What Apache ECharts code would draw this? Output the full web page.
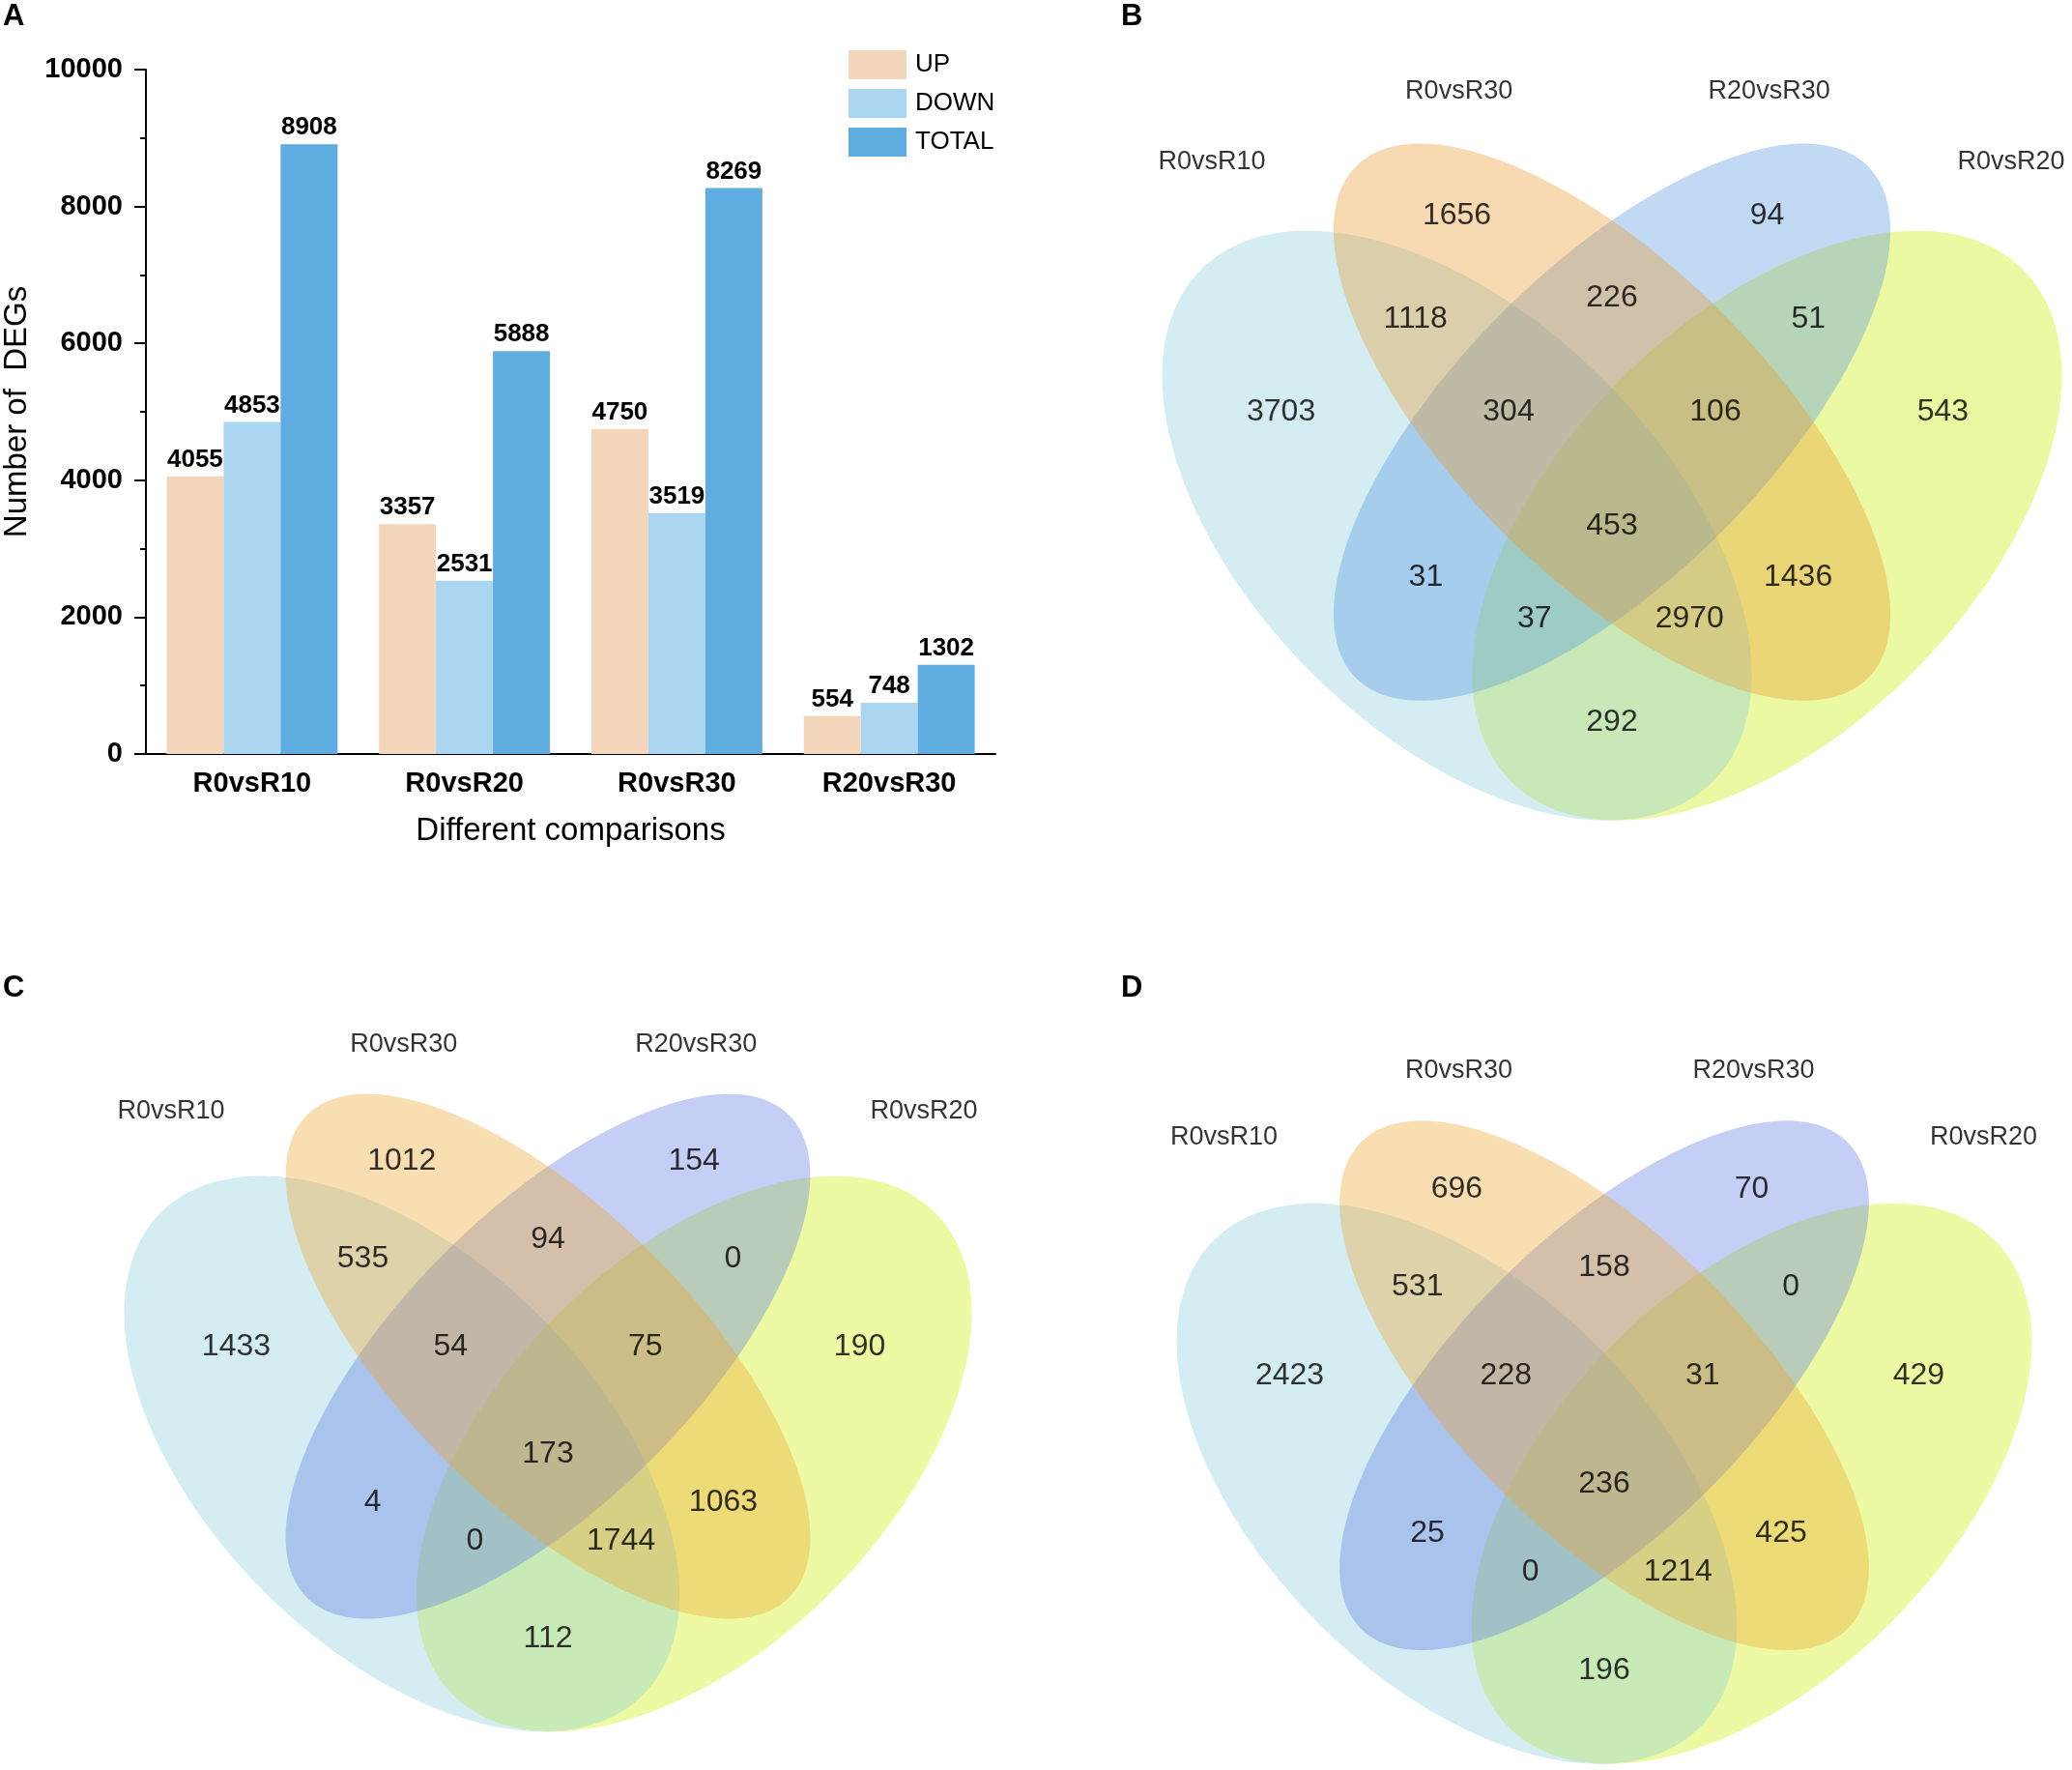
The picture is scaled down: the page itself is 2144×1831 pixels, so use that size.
<!DOCTYPE html>
<html><head><meta charset="utf-8">
<script src="https://cdn.jsdelivr.net/npm/echarts@6/dist/echarts.min.js"></script>
<style>html,body{margin:0;padding:0;background:#fff}#c{width:2144px;height:1831px}</style>
</head><body><div id="c"></div>
<script>
// ---------------- DATA ----------------
const categories = ['R0vsR10', 'R0vsR20', 'R0vsR30', 'R20vsR30'];
const upValues = [4055, 3357, 4750, 554];
const downValues = [4853, 2531, 3519, 748];
const totalValues = [8908, 5888, 8269, 1302];
const seriesNames = ['UP', 'DOWN', 'TOTAL'];

const setNames = ['R0vsR10', 'R0vsR30', 'R20vsR30', 'R0vsR20'];
// region keys: A=R0vsR10, B=R0vsR30, C=R20vsR30, D=R0vsR20
const regionKeys = ['A', 'B', 'C', 'D', 'AB', 'BC', 'CD', 'ABC', 'BCD', 'ABCD', 'AC', 'BD', 'ACD', 'ABD', 'AD'];
const vennB = [3703, 1656, 94, 543, 1118, 226, 51, 304, 106, 453, 31, 1436, 37, 2970, 292];
const vennC = [1433, 1012, 154, 190, 535, 94, 0, 54, 75, 173, 4, 1063, 0, 1744, 112];
const vennD = [2423, 696, 70, 429, 531, 158, 0, 228, 31, 236, 25, 425, 0, 1214, 196];

// ---------------- LAYOUT / STYLE ----------------
const FONT = 'Liberation Sans, Arial, Helvetica, sans-serif';
const REGION_POS = {
  A: [0.18, 0.58], B: [0.35, 0.77], C: [0.65, 0.77], D: [0.82, 0.58],
  AB: [0.31, 0.67], BC: [0.5, 0.69], CD: [0.69, 0.67],
  ABC: [0.40, 0.58], BCD: [0.60, 0.58], ABCD: [0.5, 0.47],
  AC: [0.32, 0.42], BD: [0.68, 0.42], ACD: [0.425, 0.38], ABD: [0.575, 0.38], AD: [0.5, 0.28]
};
const SET_LABEL_POS = [[0.113, 0.822], [0.352, 0.89], [0.652, 0.89], [0.886, 0.822]];
const ELLIPSES = [
  { c: [0.35, 0.47], a: 0.35, b: 0.20, ang: -45 },
  { c: [0.50, 0.57], a: 0.35, b: 0.15, ang: -45 },
  { c: [0.50, 0.57], a: 0.35, b: 0.15, ang: 45 },
  { c: [0.65, 0.47], a: 0.35, b: 0.20, ang: 45 }
];
const DRAW_ORDER = [3, 0, 2, 1];
const FILL_B = ['rgba(136,205,219,0.36)', 'rgba(233,152,41,0.36)', 'rgba(86,149,222,0.36)', 'rgba(202,238,0,0.36)'];
const FILL_CD = ['rgba(136,205,219,0.36)', 'rgba(238,163,41,0.36)', 'rgba(94,122,227,0.36)', 'rgba(205,241,0,0.36)'];
const PANELS = [
  { counts: vennB, cx: 1668, yRef: 426, s: 1070, fills: FILL_B },
  { counts: vennC, cx: 567, yRef: 1393, s: 1008, fills: FILL_CD },
  { counts: vennD, cx: 1660, yRef: 1423, s: 1017, fills: FILL_CD }
];
const XR = [0.05, 0.935], YR = [0.2, 0.95];

// ---------------- BUILD ----------------
const grids = [{ left: 150, top: 72, width: 880, height: 708 }];
const xAxes = [{
  type: 'category', gridIndex: 0, data: categories,
  axisLine: { lineStyle: { color: '#000', width: 2 } },
  axisTick: { show: false },
  axisLabel: { fontSize: 29, fontWeight: 'bold', color: '#000', margin: 16, fontFamily: FONT },
  name: 'Different comparisons', nameLocation: 'middle', nameGap: 63,
  nameTextStyle: { fontSize: 33, color: '#000', fontFamily: FONT }
}];
const yAxes = [{
  type: 'value', gridIndex: 0, min: 0, max: 10000, interval: 2000,
  axisLine: { show: true, lineStyle: { color: '#000', width: 2 } },
  axisTick: { show: true, length: 12, lineStyle: { color: '#000', width: 2 } },
  minorTick: { show: true, splitNumber: 2, length: 6, lineStyle: { color: '#000', width: 2 } },
  splitLine: { show: false },
  axisLabel: { fontSize: 29, fontWeight: 'bold', color: '#000', margin: 24, fontFamily: FONT, formatter: v => String(v) },
  name: 'Number of  DEGs', nameLocation: 'middle', nameGap: 117,
  nameTextStyle: { fontSize: 33, color: '#000', fontFamily: FONT }
}];

const barLabel = { show: true, position: 'top', distance: 4, fontSize: 26, fontWeight: 'bold', color: '#000', fontFamily: FONT };
const barColors = ['#F4D7BA', '#AAD6F1', '#5FACE1'];
const barData = [upValues, downValues, totalValues];
const series = barData.map((vals, i) => ({
  type: 'bar', name: seriesNames[i], xAxisIndex: 0, yAxisIndex: 0, data: vals,
  barGap: '0%', barCategoryGap: '19.5%',
  itemStyle: { color: barColors[i] }, label: barLabel
}));

PANELS.forEach((p, k) => {
  const gi = k + 1;
  grids.push({
    left: p.cx + (XR[0] - 0.5) * p.s, width: (XR[1] - XR[0]) * p.s,
    top: p.yRef - (YR[1] - 0.58) * p.s, height: (YR[1] - YR[0]) * p.s
  });
  xAxes.push({ type: 'value', gridIndex: gi, min: XR[0], max: XR[1], show: false });
  yAxes.push({ type: 'value', gridIndex: gi, min: YR[0], max: YR[1], show: false });
  series.push({
    type: 'custom', xAxisIndex: gi, yAxisIndex: gi, silent: true, z: 2, clip: false,
    data: DRAW_ORDER.map(j => ELLIPSES[j].c),
    renderItem: function (params, api) {
      const idx = DRAW_ORDER[params.dataIndex];
      const e = ELLIPSES[idx];
      const th = e.ang * Math.PI / 180;
      const pts = [];
      for (let i = 0; i < 240; i++) {
        const t = i / 240 * Math.PI * 2;
        const x = e.c[0] + e.a * Math.cos(t) * Math.cos(th) - e.b * Math.sin(t) * Math.sin(th);
        const y = e.c[1] + e.a * Math.cos(t) * Math.sin(th) + e.b * Math.sin(t) * Math.cos(th);
        pts.push(api.coord([x, y]));
      }
      return { type: 'polygon', shape: { points: pts }, style: { fill: p.fills[idx], stroke: null } };
    }
  });
  series.push({
    type: 'scatter', xAxisIndex: gi, yAxisIndex: gi, silent: true, z: 3,
    symbolSize: 1, itemStyle: { color: 'rgba(0,0,0,0)' },
    data: regionKeys.map((key, i) => [REGION_POS[key][0], REGION_POS[key][1], p.counts[i]]),
    label: { show: true, position: 'inside', formatter: q => String(q.value[2]), fontSize: 32, color: '#000', fontFamily: FONT }
  });
  series.push({
    type: 'scatter', xAxisIndex: gi, yAxisIndex: gi, silent: true, z: 3,
    symbolSize: 1, itemStyle: { color: 'rgba(0,0,0,0)' },
    data: setNames.map((n, i) => [SET_LABEL_POS[i][0], SET_LABEL_POS[i][1], n]),
    label: { show: true, position: 'inside', formatter: q => q.value[2], fontSize: 27, color: '#000', fontFamily: FONT }
  });
});

const letterStyle = { fontSize: 31, fontWeight: 'bold', color: '#000', fontFamily: FONT };
const option = {
  animation: false,
  backgroundColor: '#fff',
  title: [
    { text: 'A', left: 3, top: 2, textStyle: letterStyle, padding: 0 },
    { text: 'B', left: 1160, top: 2, textStyle: letterStyle, padding: 0 },
    { text: 'C', left: 3, top: 1007, textStyle: letterStyle, padding: 0 },
    { text: 'D', left: 1160, top: 1007, textStyle: letterStyle, padding: 0 }
  ],
  legend: {
    data: seriesNames, orient: 'vertical', left: 878, top: 52, padding: 0,
    itemWidth: 60, itemHeight: 30, itemGap: 10, icon: 'rect',
    textStyle: { fontSize: 26, color: '#000', fontFamily: FONT, padding: [0, 0, 0, 4] }
  },
  grid: grids, xAxis: xAxes, yAxis: yAxes, series: series
};
const chart = echarts.init(document.getElementById('c'), null, { renderer: 'canvas' });
chart.setOption(option);
</script></body></html>
